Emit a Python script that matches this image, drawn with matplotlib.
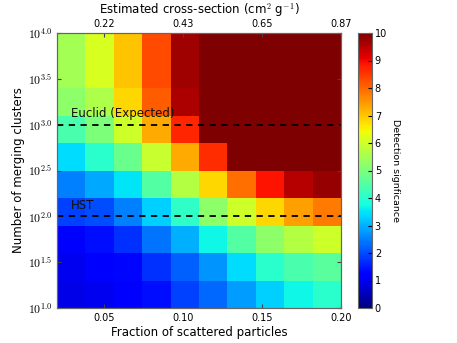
import numpy as np
import matplotlib
matplotlib.use("Agg")
import matplotlib.pyplot as plt
from matplotlib.ticker import FuncFormatter

matplotlib.rcParams["mathtext.fontset"] = "cm"

# Data: detection significance, rows from bottom (10^1.0) to top (10^4.0)
frac_edges = [0.02, 0.20]
logN_edges = [1.0, 4.0]
significance = [
    [0.9, 1.0, 1.1, 1.4, 1.9, 2.3, 2.8, 3.3, 3.7, 4.0],
    [1.0, 1.1, 1.3, 1.75, 2.2, 2.7, 3.4, 4.0, 4.4, 4.6],
    [1.2, 1.4, 1.75, 2.4, 3.0, 3.7, 4.5, 5.2, 5.7, 6.0],
    [1.9, 2.0, 2.5, 3.3, 4.1, 5.2, 6.0, 6.8, 7.4, 7.8],
    [2.5, 2.9, 3.5, 4.5, 5.7, 6.8, 7.9, 8.9, 9.5, 9.8],
    [3.4, 4.0, 4.8, 5.9, 7.3, 8.6, 10, 10, 10, 10],
    [4.4, 5.0, 6.0, 7.3, 8.7, 10, 10, 10, 10, 10],
    [5.2, 5.6, 6.8, 8.1, 9.6, 10, 10, 10, 10, 10],
    [5.5, 6.1, 7.0, 8.3, 9.7, 10, 10, 10, 10, 10],
    [5.5, 6.1, 7.0, 8.3, 9.7, 10, 10, 10, 10, 10],
]
x_ticks = [0.05, 0.10, 0.15, 0.20]
x_ticklabels = ["0.05", "0.10", "0.15", "0.20"]
top_ticklabels = ["0.22", "0.43", "0.65", "0.87"]
y_ticks = [1.0, 1.5, 2.0, 2.5, 3.0, 3.5, 4.0]
survey_levels = [3.0, 2.0]
survey_names = ["Euclid (Expected)", "HST"]

fig = plt.figure(figsize=(4.57, 3.43), dpi=100)
ax = fig.add_axes([57/457, 1-308/343, 284/457, 275/343])
cax = fig.add_axes([358/457, 1-308/343, 14/457, 275/343])

im = ax.imshow(np.array(significance), cmap="jet", vmin=0, vmax=10,
               origin="lower", aspect="auto", interpolation="nearest",
               extent=[frac_edges[0], frac_edges[1], logN_edges[0], logN_edges[1]])

for lvl, name in zip(survey_levels, survey_names):
    ax.axhline(lvl, color="black", ls="--", lw=1.3, dashes=(3.5, 3))
    ax.text(0.029, lvl + 0.05, name, fontsize=8.5, color="#111111", va="bottom")

ax.set_xlim(frac_edges)
ax.set_ylim(logN_edges)
ax.set_xticks(x_ticks)
ax.set_xticklabels(x_ticklabels, fontsize=7)
ax.set_yticks(y_ticks)
ax.yaxis.set_major_formatter(FuncFormatter(lambda v, p: r"$10^{%.1f}$" % v))
ax.tick_params(axis="y", labelsize=8.5)
ax.tick_params(direction="in", length=3, color="#444444", top=False, right=True)
ax.set_xlabel("Fraction of scattered particles", fontsize=8.5, labelpad=2)
ax.set_ylabel("Number of merging clusters", fontsize=8.5, labelpad=2)
for s in ax.spines.values():
    s.set_color("#666666")

ax2 = ax.twiny()
ax2.set_xlim(frac_edges)
ax2.set_xticks(x_ticks)
ax2.set_xticklabels(top_ticklabels, fontsize=7)
ax2.tick_params(direction="in", length=3, color="#444444", pad=3)
ax2.set_xlabel(r"Estimated cross-section (cm$^2$ g$^{-1}$)", fontsize=8.5, labelpad=4)
for s in ax2.spines.values():
    s.set_color("#666666")

cb = fig.colorbar(im, cax=cax, ticks=range(0, 11))
cb.ax.tick_params(labelsize=7, direction="in", length=3, pad=2)
cb.outline.set_edgecolor("#666666")
cb.set_label("Detection signficance", rotation=-90, fontsize=6.8, labelpad=9)

fig.savefig("out.png", dpi=100)
